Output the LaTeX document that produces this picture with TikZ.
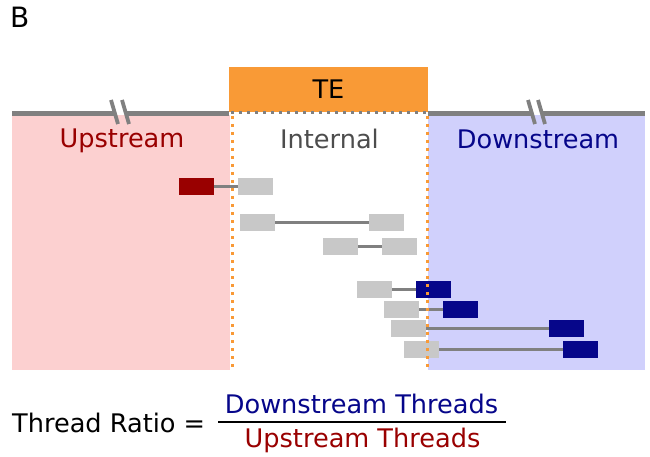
\documentclass[tikz,border=0pt]{standalone}
\usepackage{fontspec}
\setmainfont{DejaVu Sans}
\usetikzlibrary{positioning}

\definecolor{upfill}{RGB}{252,208,208}
\definecolor{downfill}{RGB}{208,208,252}
\definecolor{upred}{RGB}{153,0,0}
\definecolor{downblue}{RGB}{6,6,138}
\definecolor{teorange}{RGB}{249,154,54}
\definecolor{threadgray}{RGB}{200,200,200}
\definecolor{linegray}{RGB}{128,128,128}
\definecolor{intgray}{RGB}{77,77,77}

\begin{document}
\begin{tikzpicture}[x=1pt,y=-1pt,
	lbl/.style={font=\fontsize{25.6}{30}\selectfont,inner sep=0pt,anchor=base},
	bar/.style={minimum width=35pt,minimum height=17pt,inner sep=0pt,outer sep=0pt},
	intbar/.style={bar,fill=threadgray},
	upbar/.style={bar,fill=upred},
	downbar/.style={bar,fill=downblue},
	thread/.style={draw=linegray,line width=3pt},
	border/.style={teorange,line width=3pt,dash pattern=on 3pt off 5pt},
	topline/.style={linegray,line width=4.5pt},
	brk/.style={linegray,line width=3.8pt}]
\useasboundingbox (0,0) rectangle (650,457);
% regions
\fill[upfill] (12,115) rectangle (230,370);
\fill[downfill] (428,115) rectangle (645,370);
\node[lbl,font=\fontsize{28}{32}\selectfont,anchor=base west] (panel) at (10,28) {B};
\node[lbl,text=upred] (uplbl) at (122,148) {Upstream};
\node[lbl,text=intgray] (intlbl) at (329.5,149) {Internal};
\node[lbl,text=downblue] (downlbl) at (538,149) {Downstream};
% threads
\node[upbar] (u1) at (196.5,186.5) {};
\node[intbar] (i1) at (255.5,186.5) {};
\node[intbar] (i2) at (257.5,222.5) {};
\node[intbar] (j2) at (386.5,222.5) {};
\node[intbar] (i3) at (340.5,246.5) {};
\node[intbar] (j3) at (399.5,246.5) {};
\node[intbar] (i4) at (374.5,289.5) {};
\node[downbar] (d4) at (433.5,289.5) {};
\node[intbar] (i5) at (401.5,309.5) {};
\node[downbar] (d5) at (460.5,309.5) {};
\node[intbar] (i6) at (408.5,328) {};
\node[downbar] (d6) at (566.5,328) {};
\node[intbar] (i7) at (421.5,349) {};
\node[downbar] (d7) at (580.5,349) {};
\draw[thread] (u1.east) -- (i1.west);
\draw[thread] (i2.east) -- (j2.west);
\draw[thread] (i3.east) -- (j3.west);
\draw[thread] (i4.east) -- (d4.west);
\draw[thread] (i5.east) -- (d5.west);
\draw[thread] (i6.east) -- (d6.west);
\draw[thread] (i7.east) -- (d7.west);
% TE boundaries
\draw[border] (232,116) -- (232,370);
\draw[border] (427,116) -- (427,370);
\node[lbl,anchor=center,fill=teorange,minimum width=199pt,minimum height=45pt] (te) at (328.5,89.5) {TE};
% gene line with breaks
\draw[topline] (12,113.5) -- (115,113.5);
\draw[topline] (125,113.5) -- (229,113.5);
\draw[linegray,line width=3pt,dash pattern=on 3pt off 5pt] (231,113) -- (428,113);
\draw[topline] (428,113.5) -- (531,113.5);
\draw[topline] (541,113.5) -- (645,113.5);
\draw[brk] (111,100) -- (118,124);
\draw[brk] (122,100) -- (129,124);
\draw[brk] (528,100) -- (535,124);
\draw[brk] (538,100) -- (545,124);
% ratio
\node[lbl,anchor=base west] (ratio) at (12,432) {Thread Ratio =};
\node[lbl,text=downblue] (num) at (361.5,413) {Downstream Threads};
\node[lbl,text=upred] (den) at (362.5,447) {Upstream Threads};
\coordinate (fracl) at (218,421.5);
\coordinate (fracr) at (506,421.5);
\draw[line width=2pt] (fracl) -- (fracr);
\end{tikzpicture}
\end{document}
